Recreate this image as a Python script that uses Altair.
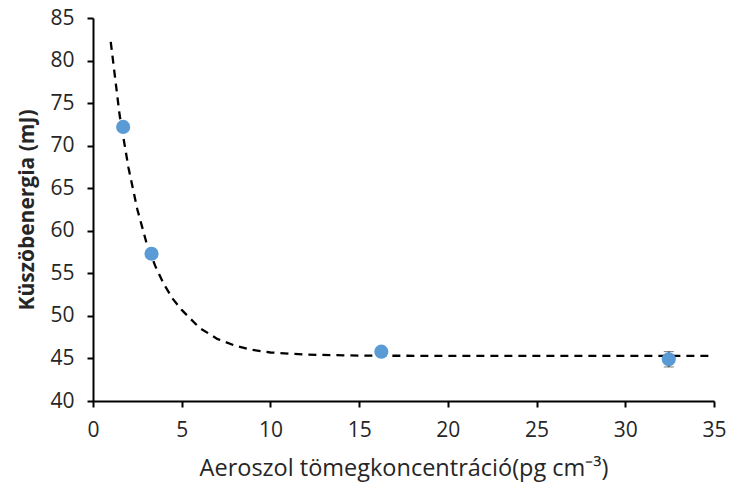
import altair as alt
import pandas as pd

# measured points
px = [1.7, 3.3, 16.25, 32.45]
py = [72.2, 57.3, 45.8, 44.9]
perr = [0.0, 0.0, 0.0, 0.9]

# dashed fit curve
cx = [1.0, 1.5, 2.0, 2.5, 3.0, 3.5, 4.0, 4.5, 5.0, 6.0, 7.0, 8.0, 9.0, 10.0, 12.0, 15.0, 20.0, 25.0, 30.0, 35.0]
cy = [82.2, 73.6, 67.4, 62.5, 58.7, 55.9, 53.7, 52.0, 50.7, 48.6, 47.3, 46.5, 46.0, 45.7, 45.45, 45.33, 45.3, 45.3, 45.3, 45.3]

pts = pd.DataFrame({"x": px, "y": py, "lo": [a - e for a, e in zip(py, perr)], "hi": [a + e for a, e in zip(py, perr)]})
curve = pd.DataFrame({"x": cx, "y": cy})

XT = "Aeroszol tömegkoncentráció(pg cm⁻³)"
YT = "Küszöbenergia (mJ)"
FONT = "Open Sans"
xs = alt.Scale(domain=[0, 35], nice=False)
ys = alt.Scale(domain=[40, 85], nice=False)

common = dict(grid=False, domainColor="black", domainWidth=2, tickColor="black", tickWidth=2,
              tickSize=6, labelFontSize=21, labelFont=FONT, labelColor="#262626", labelFlush=False,
              titleColor="#262626")
xaxis = alt.Axis(values=list(range(0, 36, 5)), title=XT, titleFont=FONT, titleFontSize=23.5,
                 labelPadding=12, titleFontWeight="normal", titlePadding=16, **common)
yaxis = alt.Axis(values=list(range(40, 86, 5)), title=YT, titleFont=FONT, titleFontSize=21,
                 labelPadding=13, titleFontWeight="bold", titlePadding=12, **common)

line = alt.Chart(curve).mark_line(color="black", strokeWidth=2.3, strokeDash=[8, 6]).encode(
    x=alt.X("x:Q", scale=xs, axis=xaxis, title=XT), y=alt.Y("y:Q", scale=ys, axis=yaxis, title=YT))

err = alt.Chart(pts[pts["hi"] > pts["lo"]]).mark_errorbar(ticks=alt.MarkConfig(size=10, color="#404040", strokeWidth=2.5),
                                                         rule=alt.MarkConfig(color="#404040", strokeWidth=2)).encode(
    x=alt.X("x:Q", scale=xs, title=XT), y=alt.Y("lo:Q", scale=ys, title=YT), y2="hi:Q")

dots = alt.Chart(pts).mark_circle(size=200, color="#5B9BD5", opacity=1).encode(
    x=alt.X("x:Q", scale=xs, title=XT), y=alt.Y("y:Q", scale=ys, title=YT))

chart = alt.layer(line, err, dots).properties(
    width=621, height=383, autosize="none", background="white",
    padding={"left": 93, "top": 18, "right": 17, "bottom": 85},
).configure_view(stroke=None)

chart.save("out.html", embed_options={"renderer": "svg", "actions": False})
